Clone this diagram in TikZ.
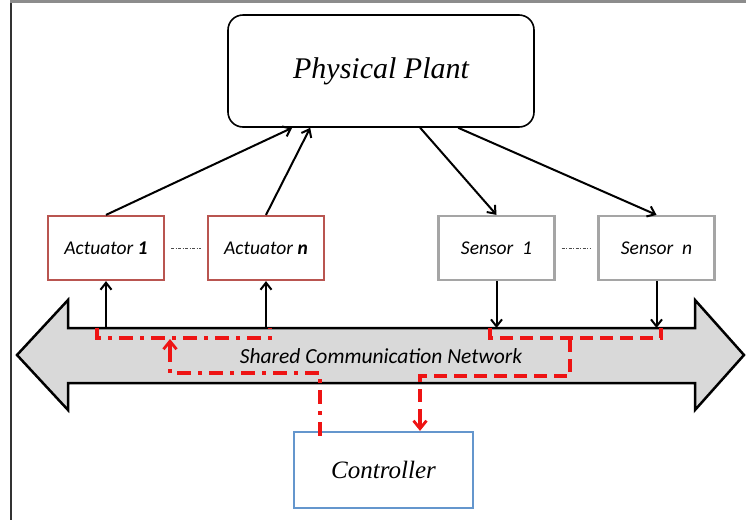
\documentclass[tikz,border=0pt]{standalone}
\usepackage{fontspec}
\setmainfont{Liberation Serif}
\newfontfamily\calib{Carlito}
\usetikzlibrary{arrows.meta}
\definecolor{actc}{RGB}{185,85,80}
\definecolor{senc}{RGB}{165,165,165}
\definecolor{ctrc}{RGB}{100,150,205}
\definecolor{busfill}{RGB}{217,217,217}
\definecolor{redl}{RGB}{238,20,20}
\begin{document}
\begin{tikzpicture}[x=1pt,y=-1pt,
  plantbox/.style={draw=black,line width=1.6pt,rounded corners=15pt,minimum width=306pt,minimum height=112pt,font=\itshape\fontsize{30}{33}\selectfont},
  actbox/.style={draw=actc,line width=2.2pt,minimum width=116pt,minimum height=64pt,font=\calib\itshape\fontsize{19.5}{22}\selectfont},
  senbox/.style={draw=senc,line width=2.2pt,minimum width=116pt,minimum height=64pt,font=\calib\itshape\fontsize{19.5}{22}\selectfont},
  ctrlbox/.style={draw=ctrc,line width=2.2pt,minimum width=179pt,minimum height=76pt,font=\itshape\fontsize{25}{28}\selectfont},
  arr/.style={line width=2pt,-{Straight Barb[length=7pt,width=11pt]}},
  dots/.style={line width=0.7pt,black!70,dash pattern=on 3pt off 1.5pt on 1pt off 1.5pt},
  rdashdot/.style={redl,line width=3.5pt,dash pattern=on 14pt off 7pt on 4pt off 7pt},
  rdash/.style={redl,line width=3.5pt,dash pattern=on 13pt off 7pt},
  rtip/.style={-{Straight Barb[length=8pt,width=13pt,line width=2.8pt]}},
]
\useasboundingbox (0,0) rectangle (746,520);
% frame remnants
\draw[line width=2pt,black!80] (10.5,0) -- (10.5,520);
\draw[line width=2.5pt,black!45] (10,1.5) -- (746,1.5);

% shared network double arrow
\draw[line width=2.5pt,fill=busfill,line join=miter]
  (17,355) -- (68,300) -- (68,328) -- (695,328) -- (695,300) -- (744,355)
  -- (695,410) -- (695,383) -- (68,383) -- (68,410) -- cycle;
\node[font=\calib\itshape\fontsize{21.5}{23}\selectfont] (bus) at (381,356) {Shared Communication Network};

% nodes
\node[plantbox] (plant) at (381,71) {Physical Plant};
\node[actbox] (act1) at (106,248) {Actuator \textbf{1}};
\node[actbox] (actn) at (266,248) {Actuator \textbf{n}};
\node[senbox] (sen1) at (496.5,248) {Sensor\ \ 1};
\node[senbox] (senn) at (656.5,248) {Sensor\ \ n};
\node[ctrlbox] (ctrl) at (383.5,470) {Controller};

% dotted separators
\draw[dots] (act1.east) ++(6pt,0) -- ([xshift=-6pt]actn.west);
\draw[dots] (sen1.east) ++(6pt,0) -- ([xshift=-6pt]senn.west);

% plant arrows
\draw[arr] (act1.north) -- ([xshift=65pt]plant.south west);
\draw[arr] (actn.north) -- ([xshift=83pt]plant.south west);
\draw[arr] ([xshift=193pt]plant.south west) -- (sen1.north);
\draw[arr] ([xshift=231pt]plant.south west) -- (senn.north);

% bus coordinates
\coordinate (a1b) at (106,328);
\coordinate (anb) at (266,328);
\coordinate (s1b) at (496.5,328);
\coordinate (snb) at (656.5,328);

\draw[arr] (a1b) -- (act1.south);
\draw[arr] (anb) -- (actn.south);
\draw[arr] (sen1.south) -- (s1b);
\draw[arr] (senn.south) -- (snb);

% red actuator-side path
\coordinate (ra1) at (97,328);
\coordinate (ra2) at (270,328);
\draw[rdashdot] (ra1) -- (97,338) -- (270,338) -- (ra2);
\coordinate (rc1) at (170,373);
\coordinate (rc2) at (170,339);
\draw[rdashdot] ([xshift=-63.5pt,yshift=-5pt]ctrl.north) |- (rc1) -- (170,350);
\draw[redl,line width=3.5pt,rtip] (170,351) -- (rc2);

% red sensor-side path
\coordinate (rs1) at (490,328);
\coordinate (rs2) at (661,328);
\draw[rdash] (rs1) -- (490,338) -- (661,338) -- (rs2);
\coordinate (rs3) at (570,339);
\coordinate (rs4) at (420,376);
\draw[rdash] (rs3) |- (rs4) -- (420,419);
\draw[redl,line width=3.5pt,rtip] (420,418) -- ([xshift=36.5pt]ctrl.north);
\end{tikzpicture}
\end{document}
